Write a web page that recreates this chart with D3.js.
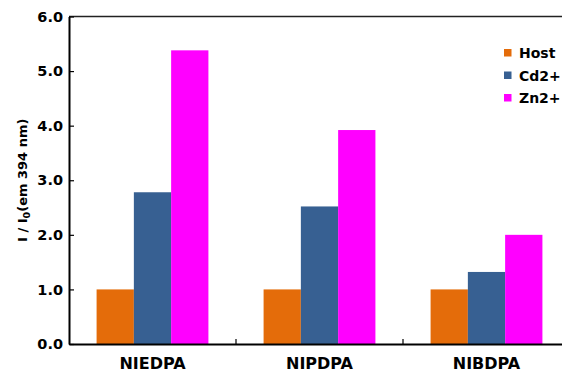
<!DOCTYPE html>
<html>
<head>
<meta charset="utf-8">
<script src="https://cdn.jsdelivr.net/npm/d3@7"></script>
<style>
  html, body { margin: 0; padding: 0; background: #fff; }
  svg { display: block; font-family: "DejaVu Sans", sans-serif; font-weight: bold; }
</style>
</head>
<body>
<svg id="chart" width="562" height="373"></svg>
<script>
const categories = ["NIEDPA", "NIPDPA", "NIBDPA"];
const seriesNames = ["Host", "Cd2+", "Zn2+"];
const hostValues = [1.0, 1.0, 1.0];
const cdValues = [2.78, 2.52, 1.32];
const znValues = [5.38, 3.92, 2.0];
const yTicks = [0, 1, 2, 3, 4, 5, 6];
const colors = ["#E46C0A", "#376092", "#FF00FF"];

const seriesValues = [hostValues, cdValues, znValues];
const data = categories.map((c, i) => ({
  cat: c,
  vals: seriesNames.map((s, j) => ({ key: s, value: seriesValues[j][i] }))
}));

const FONT = "DejaVu Sans, sans-serif";
const svg = d3.select("#chart");
const mLeft = 69, mRight = 570, mTop = 16.5, mBottom = 344;

const x0 = d3.scaleBand().domain(categories).range([mLeft, mRight]).paddingInner(0).paddingOuter(0);
const x1 = d3.scaleBand().domain(seriesNames).range([0, x0.bandwidth()]).paddingInner(0).paddingOuter(0.74);
const y = d3.scaleLinear().domain([0, 6]).range([mBottom, mTop]);
const color = d3.scaleOrdinal().domain(seriesNames).range(colors);

// bars
const g = svg.append("g");
g.selectAll("g.grp").data(data).join("g")
  .attr("class", "grp")
  .attr("transform", d => `translate(${x0(d.cat)},0)`)
  .selectAll("rect").data(d => d.vals).join("rect")
  .attr("x", d => x1(d.key))
  .attr("y", d => y(d.value))
  .attr("width", x1.bandwidth())
  .attr("height", d => y(0) - y(d.value))
  .attr("fill", d => color(d.key));

// top border
svg.append("line")
  .attr("x1", mLeft).attr("x2", mRight).attr("y1", mTop).attr("y2", mTop)
  .attr("stroke", "#222").attr("stroke-width", 1.5);

// y axis
const yAxis = d3.axisLeft(y).tickValues(yTicks).tickFormat(d3.format(".1f"))
  .tickSizeInner(-5).tickSizeOuter(0).tickPadding(6);
const ya = svg.append("g").attr("transform", `translate(${mLeft},0)`).call(yAxis);
ya.select(".domain").attr("stroke", "#000").attr("stroke-width", 2);
ya.selectAll(".tick line").attr("stroke", "#000").attr("stroke-width", 1.2);
ya.selectAll(".tick text").attr("font-size", 14.5).attr("font-weight", "bold")
  .attr("font-family", FONT).attr("fill", "#000");

// x axis
const xAxis = d3.axisBottom(x0).tickSize(0).tickPadding(13.6);
const xa = svg.append("g").attr("transform", `translate(0,${mBottom})`).call(xAxis);
xa.select(".domain").attr("stroke", "#000").attr("stroke-width", 2);
xa.selectAll(".tick text").attr("font-size", 16).attr("font-weight", "bold")
  .attr("font-family", FONT).attr("fill", "#000");
// boundary ticks between categories
svg.append("g").selectAll("line").data(categories.slice(1)).join("line")
  .attr("x1", d => x0(d)).attr("x2", d => x0(d))
  .attr("y1", mBottom).attr("y2", mBottom - 5)
  .attr("stroke", "#000").attr("stroke-width", 1.2);

// y label
const yl = svg.append("text")
  .attr("transform", `translate(27,${(mTop + mBottom) / 2}) rotate(-90)`)
  .attr("text-anchor", "middle")
  .attr("font-family", FONT)
  .attr("font-size", 13).attr("font-weight", "bold").attr("fill", "#000");
yl.append("tspan").text("I / I");
yl.append("tspan").attr("font-size", 9.5).attr("dy", 3).text("0");
yl.append("tspan").attr("dy", -3).text("(em 394 nm)");

// legend
const leg = svg.append("g").attr("transform", "translate(504,49)");
const items = leg.selectAll("g").data(seriesNames).join("g")
  .attr("transform", (d, i) => `translate(0,${i * 22.5})`);
items.append("rect").attr("width", 7.5).attr("height", 7.5).attr("fill", d => color(d));
items.append("text").attr("x", 15).attr("y", 9).attr("font-size", 14)
  .attr("font-family", FONT)
  .attr("font-weight", "bold").attr("fill", "#000").text(d => d);
</script>
</body>
</html>
